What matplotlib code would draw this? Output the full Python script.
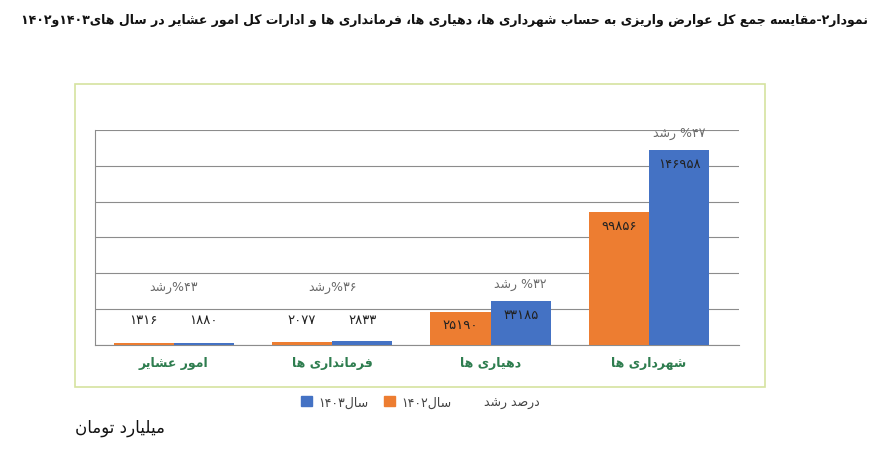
import matplotlib
matplotlib.use("Agg")
import matplotlib.pyplot as plt
from matplotlib.patches import Rectangle, Patch
import numpy as np

categories = ["امور عشایر", "فرمانداری ها", "دهیاری ها", "شهرداری ها"]
vals_1402 = [1316, 2077, 25190, 99856]
vals_1403 = [1880, 2833, 33185, 146958]
growth = [43, 36, 32, 47]
title = "نمودار۲-مقایسه جمع کل عوارض واریزی به حساب شهرداری ها، دهیاری ها، فرمانداری ها و ادارات کل امور عشایر در سال های۱۴۰۳و۱۴۰۲"
unit = "میلیارد تومان"

# ---- minimal Persian shaping + bidi ----
FORMS = {  # iso, fin, ini, med
 'ب':(0xFE8F,0xFE90,0xFE91,0xFE92),'ت':(0xFE95,0xFE96,0xFE97,0xFE98),'ث':(0xFE99,0xFE9A,0xFE9B,0xFE9C),
 'ج':(0xFE9D,0xFE9E,0xFE9F,0xFEA0),'ح':(0xFEA1,0xFEA2,0xFEA3,0xFEA4),'خ':(0xFEA5,0xFEA6,0xFEA7,0xFEA8),
 'س':(0xFEB1,0xFEB2,0xFEB3,0xFEB4),'ش':(0xFEB5,0xFEB6,0xFEB7,0xFEB8),'ص':(0xFEB9,0xFEBA,0xFEBB,0xFEBC),
 'ض':(0xFEBD,0xFEBE,0xFEBF,0xFEC0),'ط':(0xFEC1,0xFEC2,0xFEC3,0xFEC4),'ظ':(0xFEC5,0xFEC6,0xFEC7,0xFEC8),
 'ع':(0xFEC9,0xFECA,0xFECB,0xFECC),'غ':(0xFECD,0xFECE,0xFECF,0xFED0),'ف':(0xFED1,0xFED2,0xFED3,0xFED4),
 'ق':(0xFED5,0xFED6,0xFED7,0xFED8),'ک':(0xFB8E,0xFB8F,0xFB90,0xFB91),'گ':(0xFB92,0xFB93,0xFB94,0xFB95),
 'ل':(0xFEDD,0xFEDE,0xFEDF,0xFEE0),'م':(0xFEE1,0xFEE2,0xFEE3,0xFEE4),'ن':(0xFEE5,0xFEE6,0xFEE7,0xFEE8),
 'ه':(0xFEE9,0xFEEA,0xFEEB,0xFEEC),'ی':(0xFBFC,0xFBFD,0xFBFE,0xFBFF),'پ':(0xFB56,0xFB57,0xFB58,0xFB59),
 'چ':(0xFB7A,0xFB7B,0xFB7C,0xFB7D),
 'ا':(0xFE8D,0xFE8E,None,None),'د':(0xFEA9,0xFEAA,None,None),'ذ':(0xFEAB,0xFEAC,None,None),
 'ر':(0xFEAD,0xFEAE,None,None),'ز':(0xFEAF,0xFEB0,None,None),'و':(0xFEED,0xFEEE,None,None),
 'ژ':(0xFB8A,0xFB8B,None,None),
}
def dual(c): return c in FORMS and FORMS[c][2] is not None
def shape(s):
    out = []
    for i, c in enumerate(s):
        if c not in FORMS:
            out.append(c); continue
        p = s[i-1] if i > 0 else ''
        n = s[i+1] if i+1 < len(s) else ''
        jp = dual(p)
        jn = dual(c) and n in FORMS
        f = FORMS[c]
        if jp and jn: code = f[3]
        elif jp: code = f[1]
        elif jn: code = f[2]
        else: code = f[0]
        out.append(chr(code))
    return ''.join(out)
DIG = set("۰۱۲۳۴۵۶۷۸۹0123456789")
def fa(s):
    r = shape(s)[::-1]
    res, run = [], []
    for c in r:
        if c in DIG: run.append(c)
        else:
            if run: res.append(''.join(run[::-1])); run = []
            res.append(c)
    if run: res.append(''.join(run[::-1]))
    return ''.join(res)
def pd(n):
    return str(n).translate(str.maketrans("0123456789", "۰۱۲۳۴۵۶۷۸۹"))

plt.rcParams['font.family'] = ['DejaVu Sans']
orange, blue = "#ED7D31", "#4472C4"

fig = plt.figure(figsize=(8.76, 4.52), dpi=100)
fig.patches.append(Rectangle((0.0856, 0.1416), 0.7877, 0.670, transform=fig.transFigure,
                             fill=False, edgecolor="#d6e3a0", linewidth=1.2))
ax = fig.add_axes([0.108, 0.2345, 0.736, 0.476])
x = np.arange(len(categories))
w = 0.38
ax.bar(x - w/2, vals_1402, w, color=orange, zorder=3)
ax.bar(x + w/2, vals_1403, w, color=blue, zorder=3)
ymax = 162000
ax.set_ylim(0, ymax)
ax.set_xlim(-0.5, 3.57)
ax.set_yticks(np.arange(0, ymax + 1, 27000))
ax.yaxis.grid(True, color="#8c8c8c", linewidth=0.8, zorder=0)
ax.tick_params(axis='y', length=0, labelleft=False)
ax.tick_params(axis='x', length=0, pad=8)
for s in ["right", "top"]:
    ax.spines[s].set_visible(False)
ax.spines["left"].set_color("#8c8c8c")
ax.spines["bottom"].set_color("#8c8c8c")
ax.set_xticks(x)
ax.set_xticklabels([fa(c) for c in categories], color="#2e7d4f", fontsize=9, fontweight="bold")

for i in range(len(categories)):
    for xo, v in ((x[i] - w/2, vals_1402[i]), (x[i] + w/2, vals_1403[i])):
        y = v - 10000 if v > 20000 else 19500
        ax.text(xo, y, pd(v), ha="center", va="center", fontsize=9.5, color="#222222", zorder=4)
    top = max(vals_1403[i], vals_1402[i])
    big = top > 20000
    gy = top + 13000 if big else 44000
    gx = x[i] + w/2 if big else x[i]
    label = fa("رشد") + (" " if big else "") + "%" + pd(growth[i])
    ax.text(gx, gy, label, ha="center", va="center", fontsize=9, color="#6b6b6b", clip_on=False)

handles = [Patch(color=blue), Patch(color=orange), Patch(alpha=0)]
labels = [fa("سال۱۴۰۳"), fa("سال۱۴۰۲"), fa("درصد رشد")]
leg = fig.legend(handles, labels, loc="center", bbox_to_anchor=(0.48, 0.108), ncol=3, frameon=False,
                 fontsize=9, handlelength=0.9, handleheight=0.9, columnspacing=1.2, handletextpad=0.5)
for t in leg.get_texts():
    t.set_color("#444444")

fig.text(0.991, 0.955, fa(title), ha="right", va="center", fontsize=9, fontweight="bold", color="#111111")
fig.text(0.086, 0.053, fa(unit), ha="left", va="center", fontsize=12, color="#111111")
fig.savefig("out.png", dpi=100)
